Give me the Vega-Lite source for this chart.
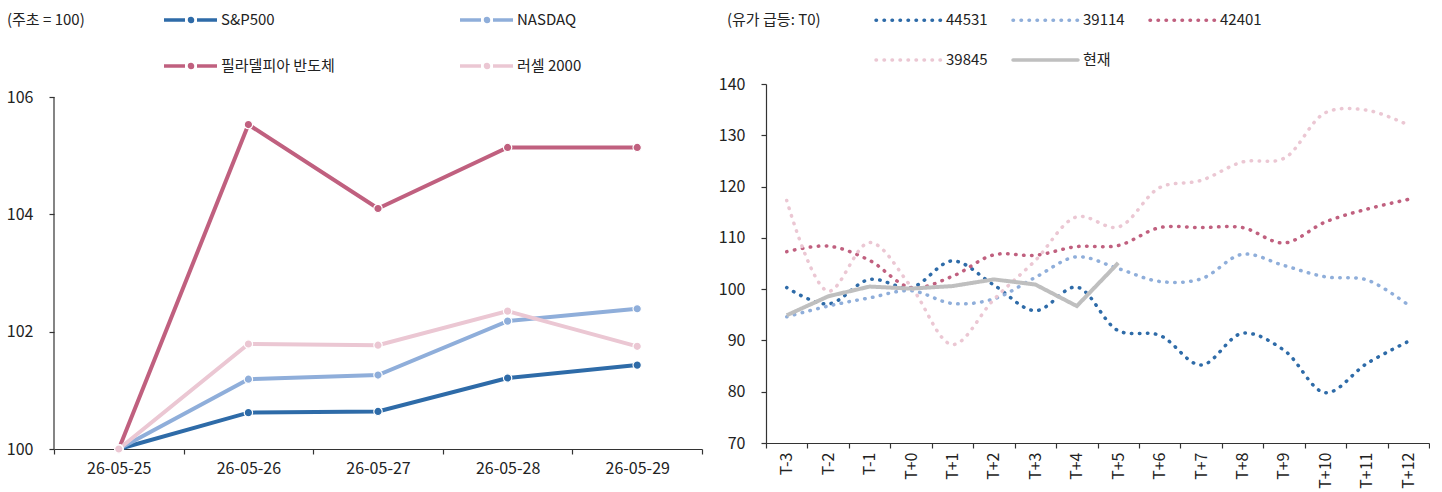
{
  "$schema": "https://vega.github.io/schema/vega-lite/v6.json",
  "padding": {"left": 6, "top": 12, "right": 0, "bottom": 0},
  "background": "white",
  "config": {
    "font": "Noto Sans CJK KR",
    "view": {"stroke": null},
    "axis": {"labelFont": "Noto Sans CJK KR", "labelFontSize": 16, "labelColor": "#222222", "domainColor": "#333333", "tickColor": "#333333", "grid": false, "title": null, "tickSize": 5, "domainWidth": 1.2, "tickWidth": 1.2},
    "legend": {"labelFont": "Noto Sans CJK KR", "labelFontSize": 15, "labelColor": "#222222", "titleFont": "Noto Sans CJK KR", "titleFontSize": 15, "titleFontWeight": "normal", "titleColor": "#222222", "padding": 0, "labelLimit": 300, "titleLimit": 300}
  },
  "datasets": {
    "weekly": [
      {"date": "26-05-25", "series": "S&P500", "value": 100},
      {"date": "26-05-26", "series": "S&P500", "value": 100.62},
      {"date": "26-05-27", "series": "S&P500", "value": 100.64},
      {"date": "26-05-28", "series": "S&P500", "value": 101.21},
      {"date": "26-05-29", "series": "S&P500", "value": 101.43},
      {"date": "26-05-25", "series": "NASDAQ", "value": 100},
      {"date": "26-05-26", "series": "NASDAQ", "value": 101.19},
      {"date": "26-05-27", "series": "NASDAQ", "value": 101.26},
      {"date": "26-05-28", "series": "NASDAQ", "value": 102.18},
      {"date": "26-05-29", "series": "NASDAQ", "value": 102.39},
      {"date": "26-05-25", "series": "필라델피아 반도체", "value": 100},
      {"date": "26-05-26", "series": "필라델피아 반도체", "value": 105.53},
      {"date": "26-05-27", "series": "필라델피아 반도체", "value": 104.1},
      {"date": "26-05-28", "series": "필라델피아 반도체", "value": 105.14},
      {"date": "26-05-29", "series": "필라델피아 반도체", "value": 105.14},
      {"date": "26-05-25", "series": "러셀 2000", "value": 100},
      {"date": "26-05-26", "series": "러셀 2000", "value": 101.79},
      {"date": "26-05-27", "series": "러셀 2000", "value": 101.77},
      {"date": "26-05-28", "series": "러셀 2000", "value": 102.35},
      {"date": "26-05-29", "series": "러셀 2000", "value": 101.75}
    ],
    "axisline": [
      {"date": "26-05-25", "lo": 100, "hi": 106}
    ],
    "oil": [
      {"t": "T-3", "series": "44531", "value": 100.3},
      {"t": "T-2", "series": "44531", "value": 97.1},
      {"t": "T-1", "series": "44531", "value": 101.9},
      {"t": "T+0", "series": "44531", "value": 100.3},
      {"t": "T+1", "series": "44531", "value": 105.5},
      {"t": "T+2", "series": "44531", "value": 100.8},
      {"t": "T+3", "series": "44531", "value": 95.8},
      {"t": "T+4", "series": "44531", "value": 100.4},
      {"t": "T+5", "series": "44531", "value": 91.9},
      {"t": "T+6", "series": "44531", "value": 91.0},
      {"t": "T+7", "series": "44531", "value": 85.2},
      {"t": "T+8", "series": "44531", "value": 91.4},
      {"t": "T+9", "series": "44531", "value": 88.1},
      {"t": "T+10", "series": "44531", "value": 79.8},
      {"t": "T+11", "series": "44531", "value": 85.5},
      {"t": "T+12", "series": "44531", "value": 89.8},
      {"t": "T-3", "series": "39114", "value": 94.6},
      {"t": "T-2", "series": "39114", "value": 96.7},
      {"t": "T-1", "series": "39114", "value": 98.3},
      {"t": "T+0", "series": "39114", "value": 99.7},
      {"t": "T+1", "series": "39114", "value": 97.2},
      {"t": "T+2", "series": "39114", "value": 98.1},
      {"t": "T+3", "series": "39114", "value": 102.3},
      {"t": "T+4", "series": "39114", "value": 106.3},
      {"t": "T+5", "series": "39114", "value": 104.0},
      {"t": "T+6", "series": "39114", "value": 101.5},
      {"t": "T+7", "series": "39114", "value": 102.0},
      {"t": "T+8", "series": "39114", "value": 106.8},
      {"t": "T+9", "series": "39114", "value": 104.6},
      {"t": "T+10", "series": "39114", "value": 102.4},
      {"t": "T+11", "series": "39114", "value": 101.8},
      {"t": "T+12", "series": "39114", "value": 96.9},
      {"t": "T-3", "series": "42401", "value": 107.3},
      {"t": "T-2", "series": "42401", "value": 108.4},
      {"t": "T-1", "series": "42401", "value": 105.6},
      {"t": "T+0", "series": "42401", "value": 100.3},
      {"t": "T+1", "series": "42401", "value": 102.5},
      {"t": "T+2", "series": "42401", "value": 106.7},
      {"t": "T+3", "series": "42401", "value": 106.6},
      {"t": "T+4", "series": "42401", "value": 108.3},
      {"t": "T+5", "series": "42401", "value": 108.5},
      {"t": "T+6", "series": "42401", "value": 112.0},
      {"t": "T+7", "series": "42401", "value": 112.0},
      {"t": "T+8", "series": "42401", "value": 112.0},
      {"t": "T+9", "series": "42401", "value": 109.0},
      {"t": "T+10", "series": "42401", "value": 113.1},
      {"t": "T+11", "series": "42401", "value": 115.6},
      {"t": "T+12", "series": "42401", "value": 117.5},
      {"t": "T-3", "series": "39845", "value": 117.3},
      {"t": "T-2", "series": "39845", "value": 99.6},
      {"t": "T-1", "series": "39845", "value": 109.1},
      {"t": "T+0", "series": "39845", "value": 100.5},
      {"t": "T+1", "series": "39845", "value": 89.2},
      {"t": "T+2", "series": "39845", "value": 98.0},
      {"t": "T+3", "series": "39845", "value": 105.6},
      {"t": "T+4", "series": "39845", "value": 114.1},
      {"t": "T+5", "series": "39845", "value": 112.1},
      {"t": "T+6", "series": "39845", "value": 119.8},
      {"t": "T+7", "series": "39845", "value": 121.2},
      {"t": "T+8", "series": "39845", "value": 124.8},
      {"t": "T+9", "series": "39845", "value": 125.5},
      {"t": "T+10", "series": "39845", "value": 134.4},
      {"t": "T+11", "series": "39845", "value": 134.9},
      {"t": "T+12", "series": "39845", "value": 132.0},
      {"t": "T-3", "series": "현재", "value": 94.9},
      {"t": "T-2", "series": "현재", "value": 98.6},
      {"t": "T-1", "series": "현재", "value": 100.5},
      {"t": "T+0", "series": "현재", "value": 100.1},
      {"t": "T+1", "series": "현재", "value": 100.6},
      {"t": "T+2", "series": "현재", "value": 101.9},
      {"t": "T+3", "series": "현재", "value": 100.9},
      {"t": "T+4", "series": "현재", "value": 96.7},
      {"t": "T+5", "series": "현재", "value": 105.1}
    ]
  },
  "spacing": 15,
  "align": "none",
  "resolve": {"scale": {"color": "independent", "strokeDash": "independent"}, "legend": {"color": "independent", "strokeDash": "independent"}},
  "hconcat": [
    {
      "width": 648,
      "height": 365,
      "layer": [
        {
          "data": {"name": "axisline"},
          "mark": {"type": "rule", "color": "#333333", "strokeWidth": 1.2},
          "encoding": {
            "x": {"field": "date", "type": "ordinal", "sort": null, "bandPosition": 0},
            "y": {"field": "lo", "type": "quantitative"},
            "y2": {"field": "hi"}
          }
        },
        {
          "data": {"name": "weekly"},
          "mark": {"type": "line", "strokeWidth": 4},
          "encoding": {
            "x": {"field": "date", "type": "ordinal", "sort": null},
            "y": {"field": "value", "type": "quantitative"},
            "color": {
              "field": "series", "type": "nominal",
              "scale": {"domain": ["S&P500", "NASDAQ", "필라델피아 반도체", "러셀 2000"], "range": ["#2E6BA8", "#8FAEDA", "#C0607F", "#EBC7D3"]},
              "legend": {
                "orient": "none", "legendX": -47, "legendY": -71.5, "direction": "horizontal",
                "title": "(주초 = 100)", "titleOrient": "left", "titleAnchor": "start", "titlePadding": 79,
                "columns": 2, "columnPadding": 118, "rowPadding": 29,
                "symbolType": "M-1.5,0H2.7M5.1,0H9.1M3.6,0A0.3,0.3 0 1,0 4.2,0A0.3,0.3 0 1,0 3.6,0",
                "symbolSize": 100, "symbolStrokeWidth": 3.5, "labelOffset": 42
              }
            }
          }
        },
        {
          "data": {"name": "weekly"},
          "mark": {"type": "point", "filled": true, "size": 70, "stroke": "white", "strokeWidth": 1.2, "opacity": 1},
          "encoding": {
            "x": {"field": "date", "type": "ordinal", "sort": null},
            "y": {"field": "value", "type": "quantitative"},
            "color": {"field": "series", "type": "nominal", "legend": null}
          }
        }
      ],
      "encoding": {
        "x": {"field": "date", "type": "ordinal", "sort": null, "scale": {"paddingInner": 0, "paddingOuter": 0}, "axis": {"labelAngle": 0, "tickBand": "extent", "labelPadding": 6}},
        "y": {"field": "value", "type": "quantitative", "scale": {"domain": [100, 106.2216], "nice": false, "zero": false}, "axis": {"values": [100, 102, 104, 106], "labelPadding": 16, "domain": false}}
      }
    },
    {
      "width": 663,
      "height": 359,
      "data": {"name": "oil"},
      "encoding": {
        "x": {"field": "t", "type": "ordinal", "sort": ["T-3", "T-2", "T-1", "T+0", "T+1", "T+2", "T+3", "T+4", "T+5", "T+6", "T+7", "T+8", "T+9", "T+10", "T+11", "T+12"], "scale": {"paddingInner": 0, "paddingOuter": 0}, "axis": {"labelAngle": -90, "tickBand": "extent", "labelPadding": 4}},
        "y": {"field": "value", "type": "quantitative", "scale": {"domain": [70, 140], "nice": false, "zero": false}, "axis": {"values": [70, 80, 90, 100, 110, 120, 130, 140], "labelPadding": 16}},
        "color": {
          "field": "series", "type": "nominal",
          "scale": {"domain": ["44531", "39114", "42401", "39845", "현재"], "range": ["#2E6BA8", "#8FAEDA", "#C0607F", "#EBC7D3", "#BFBFBF"]},
          "legend": {
            "orient": "none", "legendX": -39, "legendY": -71.5, "direction": "horizontal",
            "title": "(유가 급등: T0)", "titleOrient": "left", "titleAnchor": "start", "titlePadding": 55,
            "columns": 3, "columnPadding": 18, "rowPadding": 24,
            "symbolType": "M-1.5,0H11.5", "symbolSize": 100, "symbolStrokeWidth": 3.5, "labelOffset": 55,
            "encode": {"symbols": {"update": {"strokeCap": {"value": "round"}}}}
          }
        },
        "strokeDash": {
          "field": "series", "type": "nominal",
          "scale": {"domain": ["44531", "39114", "42401", "39845", "현재"], "range": [[0.5, 7.5], [0.5, 7.5], [0.5, 7.5], [0.5, 7.5], [1, 0]]}
        }
      },
      "layer": [
        {"transform": [{"filter": "datum.series !== '현재'"}], "mark": {"type": "line", "interpolate": "catmull-rom", "strokeWidth": 3.5, "strokeCap": "round"}},
        {"transform": [{"filter": "datum.series === '현재'"}], "mark": {"type": "line", "strokeWidth": 4}}
      ]
    }
  ]
}
